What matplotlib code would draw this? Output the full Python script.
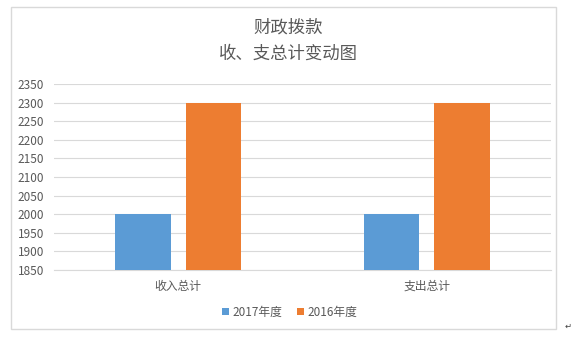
import matplotlib.pyplot as plt
import numpy as np
from matplotlib.patches import Rectangle

plt.rcParams['font.family'] = ['Noto Sans CJK SC', 'DejaVu Sans']

categories = ['收入总计', '支出总计']
series_names = ['2017年度', '2016年度']
values_2017 = [2000, 2000]
values_2016 = [2300, 2300]
colors = ['#5B9BD5', '#ED7D31']
yticks = list(range(1850, 2351, 50))

fig = plt.figure(figsize=(5.76, 3.38), dpi=100)
fig.patch.set_facecolor('white')

# outer chart frame
fig.patches.append(Rectangle((11 / 576, 1 - 329 / 338), 545 / 576, 322 / 338,
                             transform=fig.transFigure, fill=False,
                             edgecolor='#d9d9d9', linewidth=1))

ax = fig.add_axes([54 / 576, 1 - 270 / 338, 497 / 576, 186 / 338])

x = np.arange(len(categories))
w = 0.225
ax.bar(x - 0.142, values_2017, w, color=colors[0], label=series_names[0], zorder=3)
ax.bar(x + 0.142, values_2016, w, color=colors[1], label=series_names[1], zorder=3)

ax.set_xlim(-0.5, 1.5)
ax.set_ylim(1850, 2350)
ax.set_yticks(yticks)
ax.set_xticks(x)
ax.set_xticklabels(categories, fontsize=8.5)
ax.yaxis.grid(True, color='#d9d9d9', linewidth=0.8, zorder=0)
for s in ['top', 'right', 'left']:
    ax.spines[s].set_visible(False)
ax.spines['bottom'].set_color('#d9d9d9')
ax.tick_params(axis='both', length=0, labelcolor='#595959')
ax.tick_params(axis='y', labelsize=8.5, pad=7)
ax.tick_params(axis='x', pad=7)

fig.text(0.5, 1 - 28 / 338, '财政拨款', ha='center', va='center',
         fontsize=12.5, color='#595959')
fig.text(0.5, 1 - 54 / 338, '收、支总计变动图', ha='center', va='center',
         fontsize=12.5, color='#595959')

fig.legend(loc='center', bbox_to_anchor=(0.503, 1 - 312 / 338), ncol=2, frameon=False,
           fontsize=8.5, labelcolor='#595959', handlelength=0.6, handleheight=0.6,
           handletextpad=0.3, columnspacing=1.2)

fig.text(568 / 576, 1 - 326 / 338, '↵', ha='center', va='center', fontsize=6,
         color='#404040', family=['DejaVu Sans'])

fig.savefig('out.png', dpi=100)
